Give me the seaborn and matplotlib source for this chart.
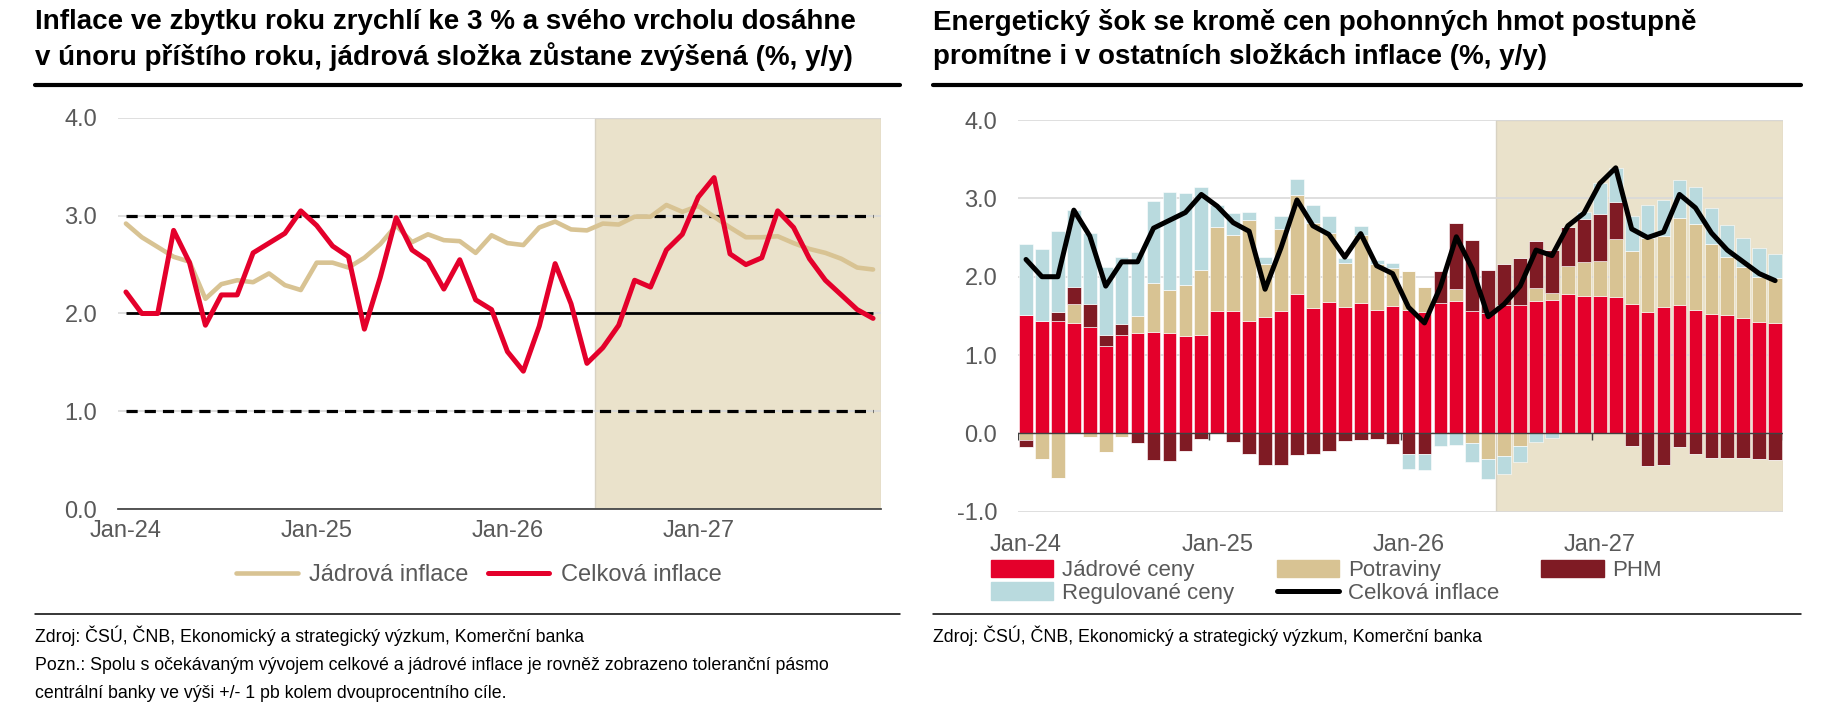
import numpy as np
import pandas as pd
import matplotlib.pyplot as plt
import seaborn as sns
from matplotlib.lines import Line2D
from matplotlib.patches import Patch

# mesice leden 2024 az prosinec 2027
mesice = pd.date_range("2024-01-01", periods=48, freq="MS")
popisky_let = ["Jan-24", "Jan-25", "Jan-26", "Jan-27"]
zacatek_prognozy = 30  # cervenec 2026

celkova_inflace = [2.22, 2.00, 2.00, 2.85, 2.52, 1.88, 2.19, 2.19, 2.62, 2.72, 2.82, 3.05,
                   2.90, 2.69, 2.58, 1.84, 2.37, 2.98, 2.65, 2.54, 2.25, 2.55, 2.14, 2.04,
                   1.61, 1.41, 1.87, 2.51, 2.10, 1.49, 1.65, 1.88, 2.34, 2.27, 2.65, 2.81,
                   3.19, 3.39, 2.61, 2.50, 2.57, 3.05, 2.88, 2.56, 2.34, 2.19, 2.04, 1.95]
jadrova_inflace = [2.92, 2.78, 2.68, 2.58, 2.53, 2.15, 2.30, 2.34, 2.32, 2.41, 2.29, 2.24,
                   2.52, 2.52, 2.47, 2.57, 2.71, 2.90, 2.73, 2.81, 2.75, 2.74, 2.62, 2.80,
                   2.72, 2.70, 2.88, 2.94, 2.86, 2.85, 2.92, 2.91, 2.99, 2.99, 3.11, 3.04,
                   3.10, 2.99, 2.88, 2.78, 2.78, 2.79, 2.72, 2.66, 2.62, 2.56, 2.47, 2.45]

# prispevky slozek (p.b.)
jadrove_ceny = [1.51, 1.44, 1.44, 1.41, 1.36, 1.12, 1.26, 1.28, 1.29, 1.28, 1.24, 1.26,
                1.56, 1.56, 1.44, 1.49, 1.56, 1.78, 1.60, 1.68, 1.61, 1.66, 1.58, 1.63,
                1.57, 1.55, 1.67, 1.69, 1.56, 1.54, 1.64, 1.64, 1.69, 1.70, 1.78, 1.76,
                1.76, 1.74, 1.65, 1.55, 1.61, 1.64, 1.58, 1.53, 1.51, 1.47, 1.42, 1.41]
potraviny = [-0.09, -0.33, -0.57, 0.24, -0.04, -0.24, -0.04, 0.22, 0.63, 0.55, 0.66, 0.83,
             1.07, 0.97, 1.29, 0.67, 1.05, 1.26, 1.08, 0.88, 0.57, 0.87, 0.58, 0.48,
             0.50, 0.32, 0.00, 0.15, -0.12, -0.33, -0.29, -0.16, 0.17, 0.09, 0.36, 0.43,
             0.44, 0.74, 0.68, 0.94, 0.91, 1.11, 1.09, 0.89, 0.74, 0.66, 0.58, 0.57]
phm = [-0.09, 0.00, 0.11, 0.22, 0.29, 0.14, 0.14, -0.12, -0.34, -0.35, -0.23, -0.07,
       0.00, -0.11, -0.26, -0.40, -0.40, -0.27, -0.26, -0.23, -0.10, -0.09, -0.07, -0.14,
       -0.26, -0.26, 0.40, 0.84, 0.91, 0.54, 0.52, 0.60, 0.60, 0.55, 0.49, 0.55,
       0.60, 0.47, -0.16, -0.42, -0.40, -0.17, -0.26, -0.31, -0.31, -0.31, -0.33, -0.34]
regulovane_ceny = [0.91, 0.91, 1.03, 0.98, 0.91, 0.87, 0.85, 0.81, 1.05, 1.25, 1.17, 1.05,
                   0.29, 0.28, 0.10, 0.09, 0.17, 0.21, 0.24, 0.21, 0.06, 0.12, 0.05, 0.07,
                   -0.20, -0.21, -0.16, -0.15, -0.24, -0.25, -0.23, -0.20, -0.11, -0.06, 0.00, 0.09,
                   0.39, 0.44, 0.45, 0.43, 0.46, 0.48, 0.47, 0.46, 0.41, 0.37, 0.37, 0.31]

CERVENA = "#E4002B"
BEZOVA = "#D8C393"
TMAVE_CERVENA = "#7F1B24"
SVETLE_MODRA = "#B9DADE"
PROGNOZA = "#EAE2CB"
SEDA = "#595959"
MRIZKA = "#D9D9D9"

sns.set_theme(style="white")
plt.rcParams["font.family"] = ["Liberation Sans", "DejaVu Sans"]
plt.rcParams["axes.unicode_minus"] = False

pozice = np.arange(len(mesice))


def styl_osy(ax, ymin, ymax):
    ax.set_xlim(-0.5, len(mesice) - 0.5)
    ax.set_ylim(ymin, ymax)
    ax.set_yticks(np.arange(ymin, ymax + 0.5, 1.0))
    ax.yaxis.set_major_formatter("{x:.1f}")
    ax.grid(axis="y", color=MRIZKA, linewidth=1.2)
    ax.grid(axis="x", visible=False)
    ax.set_axisbelow(True)
    for s in ["left", "right", "top"]:
        ax.spines[s].set_visible(False)
    ax.set_xticks([0, 12, 24, 36], popisky_let)
    ax.set_xticks([-0.5, 11.5, 23.5, 35.5, 47.5], minor=True)
    ax.tick_params(axis="y", length=0, pad=15, labelsize=17, labelcolor=SEDA)
    ax.tick_params(axis="x", which="major", length=0, labelsize=17, labelcolor=SEDA)
    ax.set_xlabel("")
    ax.set_ylabel("")
    ax.axvspan(zacatek_prognozy - 0.5, len(mesice) - 0.5, facecolor=PROGNOZA,
               edgecolor="#D8D2C2", linewidth=1, zorder=0.2)


fig = plt.figure(figsize=(18.32, 7.12), dpi=100)

# ---- levy graf: celkova a jadrova inflace ----
ax1 = fig.add_axes([0.0644, 0.2851, 0.4165, 0.5492])
styl_osy(ax1, 0, 4)
ax1.spines["bottom"].set_color("#404040")
ax1.tick_params(axis="x", which="major", pad=8)
ax1.tick_params(axis="x", which="minor", length=5, width=1, color="#404040", direction="out")

ax1.hlines([1, 3], pozice[0], pozice[-1], colors="black", linestyles=(0, (3.5, 2.2)),
           linewidth=2.3, zorder=2)
ax1.hlines(2, pozice[0], pozice[-1], colors="black", linewidth=2, zorder=2)
sns.lineplot(x=pozice, y=jadrova_inflace, color=BEZOVA, linewidth=3.3, ax=ax1, zorder=3)
sns.lineplot(x=pozice, y=celkova_inflace, color=CERVENA, linewidth=3.6, ax=ax1, zorder=4)

ax1.legend(handles=[Line2D([], [], color=BEZOVA, lw=3.3), Line2D([], [], color=CERVENA, lw=3.6)],
           labels=["Jádrová inflace", "Celková inflace"], ncol=2, loc="center",
           bbox_to_anchor=(0.473, -0.169), frameon=False, fontsize=17, labelcolor=SEDA,
           handlelength=2.6, handletextpad=0.5, columnspacing=0.8, borderpad=0, borderaxespad=0)

# ---- pravy graf: prispevky slozek ----
ax2 = fig.add_axes([0.5557, 0.2813, 0.4176, 0.5501])
styl_osy(ax2, -1, 4)
ax2.spines["bottom"].set_visible(False)
ax2.tick_params(axis="x", which="major", pad=16)
ax2.tick_params(axis="x", which="minor", length=0)

slozky = [
    ("Jádrové ceny", jadrove_ceny, CERVENA),
    ("Potraviny", potraviny, BEZOVA),
    ("PHM", phm, TMAVE_CERVENA),
    ("Regulované ceny", regulovane_ceny, SVETLE_MODRA),
]
kladny_zaklad = np.zeros(len(mesice))
zaporny_zaklad = np.zeros(len(mesice))
for nazev, hodnoty, barva in slozky:
    h = np.array(hodnoty)
    kladne = np.clip(h, 0, None)
    zaporne = np.clip(h, None, 0)
    sns.barplot(x=pozice, y=kladne, bottom=kladny_zaklad, color=barva, saturation=1,
                width=0.86, errorbar=None, edgecolor="white", linewidth=0.4, ax=ax2, zorder=2)
    sns.barplot(x=pozice, y=zaporne, bottom=zaporny_zaklad, color=barva, saturation=1,
                width=0.86, errorbar=None, edgecolor="white", linewidth=0.4, ax=ax2, zorder=2)
    kladny_zaklad += kladne
    zaporny_zaklad += zaporne

ax2.axhline(0, color="#404040", linewidth=1, zorder=3)
ax2.vlines([-0.5, 11.5, 23.5, 35.5, 47.5], -0.08, 0, colors="#404040", linewidth=1, zorder=3)
sns.lineplot(x=pozice, y=celkova_inflace, color="black", linewidth=3.6, ax=ax2, zorder=4)

# barplot prepsal popisky osy x - nastavit znovu
ax2.set_xticks([0, 12, 24, 36], popisky_let)
ax2.set_xlim(-0.5, len(mesice) - 0.5)
ax2.set_xlabel("")

h_leg = [Patch(color=CERVENA), Patch(color=SVETLE_MODRA), Patch(color=BEZOVA),
         Line2D([], [], color="black", lw=3.6), Patch(color=TMAVE_CERVENA)]
l_leg = ["Jádrové ceny", "Regulované ceny", "Potraviny", "Celková inflace", "PHM"]
ax2.legend(handles=h_leg, labels=l_leg, ncol=3, loc="center left",
           bbox_to_anchor=(-0.035, -0.179), frameon=False, fontsize=16, labelcolor=SEDA,
           handlelength=2.8, handleheight=0.85, handletextpad=0.4, columnspacing=1.9,
           labelspacing=0.05, borderpad=0, borderaxespad=0)

# ---- titulky, linky a zdroje ----
tit = dict(fontsize=20, fontweight="bold", color="black", va="center", ha="left")
fig.text(0.0191, 0.969, "Inflace ve zbytku roku zrychlí ke 3 % a svého vrcholu dosáhne", **tit)
fig.text(0.0191, 0.921, "v únoru příštího roku, jádrová složka zůstane zvýšená (%, y/y)", **tit)
fig.text(0.5093, 0.969, "Energetický šok se kromě cen pohonných hmot postupně", **tit)
fig.text(0.5093, 0.921, "promítne i v ostatních složkách inflace (%, y/y)", **tit)

for x0, x1 in [(35, 900), (933, 1801)]:
    fig.add_artist(Line2D([x0 / 1832, x1 / 1832], [1 - 85 / 712] * 2, color="black",
                          lw=3, transform=fig.transFigure))
    fig.add_artist(Line2D([x0 / 1832, x1 / 1832], [1 - 614 / 712] * 2, color="black",
                          lw=1.1, transform=fig.transFigure))

pozn = dict(fontsize=12.8, color="black", va="center", ha="left")
zdroj = "Zdroj: ČSÚ, ČNB, Ekonomický a strategický výzkum, Komerční banka"
fig.text(35 / 1832, 1 - 636 / 712, zdroj, **pozn)
fig.text(933 / 1832, 1 - 636 / 712, zdroj, **pozn)
fig.text(35 / 1832, 1 - 665 / 712,
         "Pozn.: Spolu s očekávaným vývojem celkové a jádrové inflace je rovněž zobrazeno toleranční pásmo",
         **pozn)
fig.text(35 / 1832, 1 - 693 / 712,
         "centrální banky ve výši +/- 1 pb kolem dvouprocentního cíle.", **pozn)

fig.savefig("out.png", dpi=100)
